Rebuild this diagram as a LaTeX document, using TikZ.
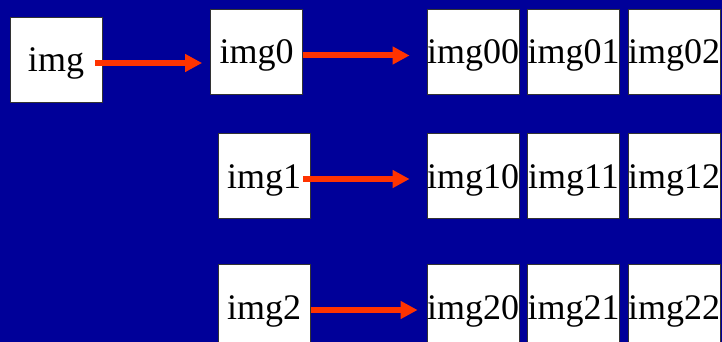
\documentclass[tikz,border=0pt]{standalone}
\usepackage{fontspec}
\setmainfont{Liberation Serif}
\usetikzlibrary{arrows.meta,calc}
\definecolor{slideblue}{HTML}{000099}
\definecolor{arrred}{HTML}{FF3300}
\definecolor{boxink}{HTML}{333333}
\tikzset{
  imgbox/.style={draw=boxink, line width=0.8pt, fill=white, inner sep=0pt,
    minimum width=92pt, minimum height=85pt, text height=27pt, text depth=2pt,
    font=\fontsize{36}{40}\selectfont},
  arr/.style={-{Triangle[length=17pt, width=17pt]}, line width=6pt, color=arrred},
}
\begin{document}
\begin{tikzpicture}[x=1pt, y=-1pt]
  \fill[slideblue] (0,0) rectangle (722,342);
  \useasboundingbox (0,0) rectangle (722,342);
  \clip (0,0) rectangle (722,342);
  \node[imgbox] (img) at (56,59.5) {img};
  \foreach \r/\x/\y in {0/256.5/51.5, 1/264/175.5, 2/264/306.5}
  {
    \node[imgbox] (img\r) at (\x,\y) {img\r};
    \foreach \c/\cx in {0/473, 1/573.5, 2/674}
      \node[imgbox] (img\r\c) at (\cx,\y) {img\r\c};
  }
  \draw[arr] ($(img.east)+(-7,3.5)$) -- ($(img0.west |- img.east)+(-8,3.5)$);
  \draw[arr] ($(img0.east)+(0,4)$) -- ($(img00.west)+(-17,4)$);
  \draw[arr] ($(img1.east)+(-7,3.5)$) -- ($(img10.west)+(-17,3.5)$);
  \draw[arr] ($(img2.east)+(1,3.5)$) -- ($(img20.west)+(-9,3.5)$);
\end{tikzpicture}
\end{document}
